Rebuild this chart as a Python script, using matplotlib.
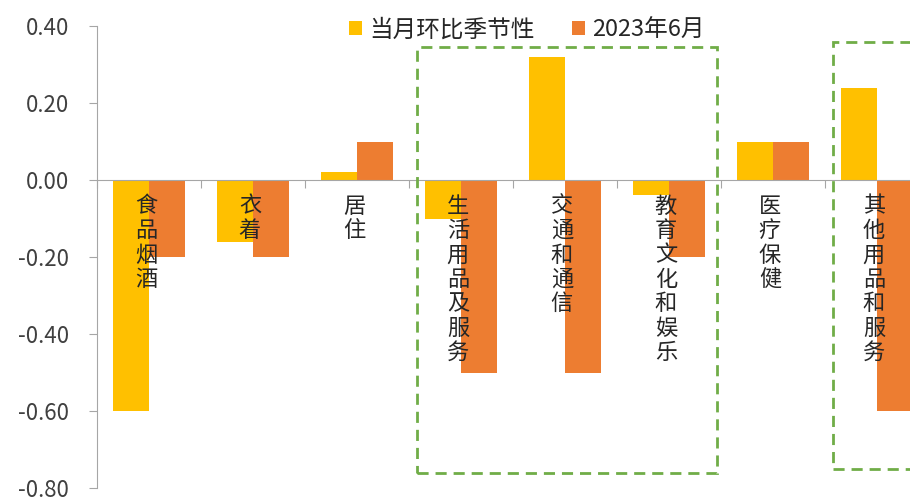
import matplotlib
matplotlib.use('Agg')
import matplotlib.pyplot as plt
from matplotlib.patches import Rectangle
import numpy as np

plt.rcParams['font.family'] = ['Noto Sans CJK SC', 'DejaVu Sans']

# ===数据
categories = ['食品烟酒', '衣着', '居住', '生活用品及服务', '交通和通信', '教育文化和娱乐', '医疗保健', '其他用品和服务']
seasonal = [-0.60, -0.16, 0.02, -0.10, 0.32, -0.04, 0.10, 0.24]   # 当月环比季节性
jun_2023 = [-0.20, -0.20, 0.10, -0.50, -0.50, -0.20, 0.10, -0.60]  # 2023年6月
series_names = ['当月环比季节性', '2023年6月']
yticks = [0.40, 0.20, 0.00, -0.20, -0.40, -0.60, -0.80]
highlight_groups = [(3, 5), (7, 7)]  # 绿色虚线框圈出的类别

c_yellow = '#FFC000'
c_orange = '#ED7D31'
c_green = '#70AD47'

fig = plt.figure(figsize=(9.1, 4.98), dpi=100)
ax = fig.add_axes([97 / 910, 10 / 498, 832 / 910, 462 / 498])

x = np.arange(len(categories))
w = 0.35
ax.bar(x - w / 2, seasonal, w, color=c_yellow, label=series_names[0], zorder=2)
ax.bar(x + w / 2, jun_2023, w, color=c_orange, label=series_names[1], zorder=2)

ax.set_xlim(-0.5, len(categories) - 0.5)
ax.set_ylim(-0.80, 0.40)
ax.set_yticks(yticks)
ax.set_yticklabels(['%.2f' % v for v in yticks])

# 坐标轴样式
for s in ['top', 'right']:
    ax.spines[s].set_visible(False)
ax.spines['bottom'].set_position(('data', 0))
ax.spines['bottom'].set_color('#A6A6A6')
ax.spines['left'].set_color('#A6A6A6')
ax.spines['bottom'].set_zorder(3)
ax.set_xticks(np.arange(len(categories) + 1) - 0.5)
ax.set_xticklabels([])
ax.tick_params(axis='x', direction='out', length=6, color='#A6A6A6')
ax.tick_params(axis='y', direction='out', length=6, color='#A6A6A6', labelsize=16, pad=14, labelcolor='#404040')

# 竖排类别标签
for i, name in enumerate(categories):
    ax.text(i - 0.03, -0.038, '\n'.join(name), ha='center', va='top', fontsize=16,
            linespacing=1.08, color='#262626', zorder=4)

# 绿色虚线框
for start, end in highlight_groups:
    left = start - 0.42
    right = end + 0.46 if end < len(categories) - 1 else end + 0.6
    top = 0.345 if start < len(categories) - 1 else 0.358
    bottom = -0.762 if start < len(categories) - 1 else -0.751
    ax.add_patch(Rectangle((left, bottom), right - left, top - bottom, fill=False,
                           edgecolor=c_green, linestyle=(0, (4, 2.5)), linewidth=2, zorder=5))

fig.legend(loc='center', bbox_to_anchor=(527 / 910, 1 - 30 / 498), ncol=2, frameon=False,
           fontsize=17, handlelength=0.55, handleheight=0.55, handletextpad=0.3, columnspacing=1.6,
           labelcolor='#262626')

fig.savefig('out.png', dpi=100)
